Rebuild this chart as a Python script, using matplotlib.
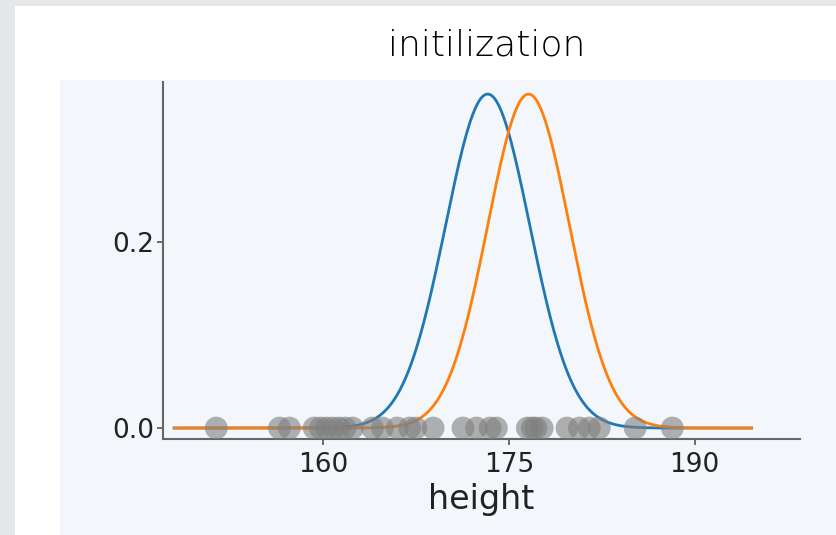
import numpy as np
import matplotlib
matplotlib.use("Agg")
import matplotlib.pyplot as plt
from matplotlib.patches import Rectangle

# ---- data ----
heights = [151.4, 156.5, 157.3, 159.3, 159.8, 160.3, 160.8, 161.3, 161.8, 162.4,
           164.0, 164.8, 166.0, 167.0, 167.5, 168.9, 171.3, 172.4, 173.5, 174.0,
           176.5, 176.9, 177.2, 177.7, 179.7, 180.7, 181.5, 182.3, 185.2, 188.2]
means = [173.3, 176.6]
sigmas = [3.4, 3.3]
peak = 0.359
curve_range = (148.0, 194.6)
curve_colors = ["#1f77b4", "#ff7f0e"]
xticks = [160, 175, 190]
yticks = [0.0, 0.2]
title = "initilization"
xlabel = "height"

W, H = 836, 535
fig = plt.figure(figsize=(W / 100, H / 100), dpi=100)
fig.patch.set_facecolor("#e5e7eb")
fig.patches.append(Rectangle((15 / W, 0), 1, 1 - 6 / H, transform=fig.transFigure,
                             facecolor="white", edgecolor="none", zorder=-10))
fig.patches.append(Rectangle((60 / W, 0), 1, 1 - 80 / H, transform=fig.transFigure,
                             facecolor="#f3f6fa", edgecolor="none", zorder=-9))

ax = fig.add_axes([163 / W, 1 - 439 / H, (800 - 163) / W, (439 - 82) / H])
ax.set_facecolor("none")

xs = np.linspace(curve_range[0], curve_range[1], 500)
for m, s, c in zip(means, sigmas, curve_colors):
    ax.plot(xs, peak * np.exp(-(xs - m) ** 2 / (2 * s ** 2)), color=c, lw=2, zorder=2)

ax.scatter(heights, np.zeros(len(heights)), s=270, color="#7f7f7f", alpha=0.6,
           edgecolors="none", zorder=3)

ax.set_xlim(147.1, 198.5)
ax.set_ylim(-0.0118, 0.372)
ax.set_xticks(xticks)
ax.set_yticks(yticks)
ax.set_yticklabels([f"{v:.1f}" for v in yticks])
ax.tick_params(labelsize=19, colors="#555555", labelcolor="#222222", length=4, width=1.2)
ax.tick_params(axis="x", pad=5)
ax.tick_params(axis="y", pad=2)
for side in ["top", "right"]:
    ax.spines[side].set_visible(False)
for side in ["left", "bottom"]:
    ax.spines[side].set_color("#666666")
    ax.spines[side].set_linewidth(1.5)
ax.set_xlabel(xlabel, fontsize=24, color="#222222", labelpad=4)

fig.text(487 / W, 1 - 45 / H, title, ha="center", va="center", fontsize=26,
         fontweight=200, color="#000000")

fig.savefig("out.png", dpi=100, facecolor=fig.get_facecolor())
